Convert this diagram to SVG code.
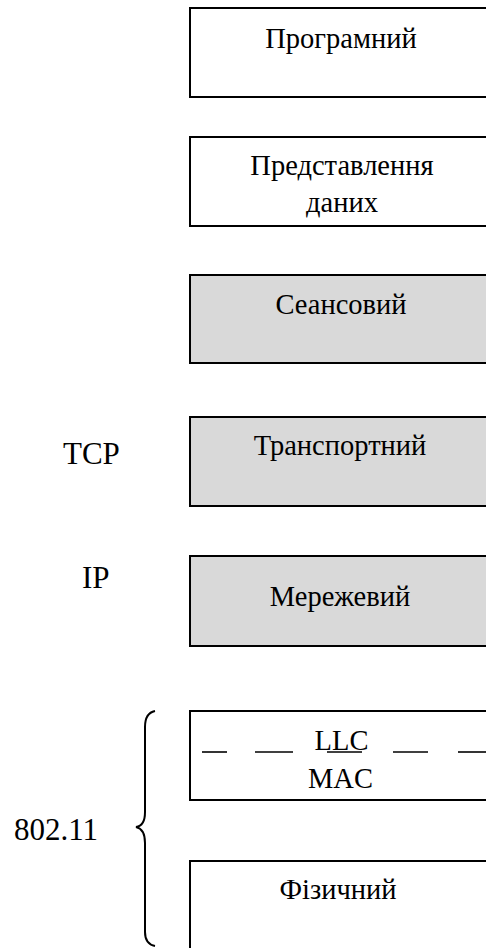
<svg xmlns="http://www.w3.org/2000/svg" width="486" height="948" viewBox="0 0 486 948">
  <style>
    .box { fill: #ffffff; stroke: #000000; stroke-width: 2; }
    .shaded { fill: #d9d9d9; }
    .ln { stroke: #000000; stroke-width: 1.6; fill: none; }
    .brace { stroke: #000000; stroke-width: 2; fill: none; }
  </style>

  <g font-family="Liberation Serif" font-size="28.5" fill="#000000">
    <!-- protocol layers -->
    <g id="layer-application">
      <rect class="box" x="190" y="8" width="310" height="89"/>
      <text font-family="Liberation Serif" text-anchor="middle" x="341" y="48">Програмний</text>
    </g>
    <g id="layer-presentation">
      <rect class="box" x="190" y="137" width="310" height="89"/>
      <text font-family="Liberation Serif" text-anchor="middle" x="342" y="175">Представлення</text>
      <text font-family="Liberation Serif" text-anchor="middle" x="342" y="212">даних</text>
    </g>
    <g id="layer-session">
      <rect class="box shaded" x="190" y="275" width="310" height="88"/>
      <text font-family="Liberation Serif" text-anchor="middle" x="341" y="314">Сеансовий</text>
    </g>
    <g id="layer-transport">
      <rect class="box shaded" x="190" y="417" width="310" height="89"/>
      <text font-family="Liberation Serif" text-anchor="middle" x="340" y="455">Транспортний</text>
    </g>
    <g id="layer-network">
      <rect class="box shaded" x="190" y="556" width="310" height="90"/>
      <text font-family="Liberation Serif" text-anchor="middle" x="340" y="606">Мережевий</text>
    </g>
    <g id="layer-datalink">
      <rect class="box" x="190" y="711" width="310" height="89"/>
      <line class="ln" x1="202" y1="752" x2="227" y2="752"/>
      <line class="ln" x1="255" y1="752" x2="293" y2="752"/>
      <line class="ln" x1="327" y1="752" x2="362" y2="752"/>
      <line class="ln" x1="393" y1="752" x2="428" y2="752"/>
      <line class="ln" x1="458" y1="752" x2="490" y2="752"/>
      <text font-family="Liberation Serif" text-anchor="middle" x="341.5" y="750">LLC</text>
      <text font-family="Liberation Serif" text-anchor="middle" x="340.5" y="788">MAC</text>
    </g>
    <g id="layer-physical">
      <rect class="box" x="190" y="861" width="310" height="100"/>
      <text font-family="Liberation Serif" text-anchor="middle" x="338" y="899">Фізичний</text>
    </g>

    <!-- protocol labels -->
    <g id="label-tcp"><text font-family="Liberation Serif" font-size="31" x="63" y="464">TCP</text></g>
    <g id="label-ip"><text font-family="Liberation Serif" font-size="31" x="82" y="588">IP</text></g>
    <g id="label-80211"><text font-family="Liberation Serif" font-size="31" x="14" y="840">802.11</text></g>
  </g>

  <!-- brace grouping the two lower layers -->
  <g id="connectors">
    <path class="brace" d="M155,711 Q145,713 145,727 L145,812 Q145,826 136,827 Q145,829 145,843 L145,932 Q145,944 155,946"/>
  </g>
</svg>
